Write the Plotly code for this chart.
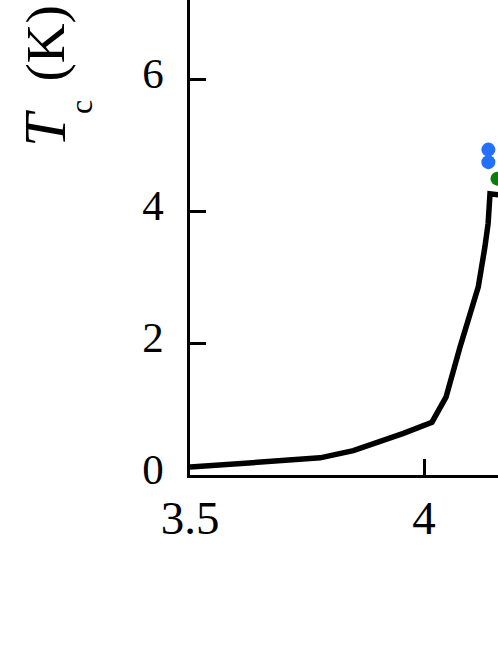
import plotly.graph_objects as go

# Tc curve
curve_x = [3.5, 3.6, 3.692, 3.735, 3.778, 3.849, 3.906, 3.956, 4.017, 4.047, 4.077,
           4.102, 4.116, 4.130, 4.137, 4.141, 4.150, 4.165]
curve_y = [0.12, 0.17, 0.20, 0.22, 0.26, 0.37, 0.50, 0.63, 0.80, 1.18, 1.94,
           2.55, 2.85, 3.45, 3.81, 4.26, 4.25, 4.24]

# blue points
blue_x = [4.1375, 4.1375]
blue_y = [4.93, 4.74]

# green point
green_x = [4.157]
green_y = [4.49]

x_ticks = [3.5, 4]
x_tick_labels = ["3.5", "4"]
y_ticks = [0, 2, 4, 6]
y_tick_labels = ["0", "2", "4", "6"]

FONT = "Liberation Serif"
W, H, L, B = 498, 645, 190, 170
PW, PH = W - L, H - B


def px(xp):
    return (xp - L) / PW


def py(yp):
    return (PH - yp) / PH


fig = go.Figure()
fig.add_trace(go.Scatter(x=curve_x, y=curve_y, mode="lines",
                         line=dict(color="black", width=5.5), showlegend=False))
fig.add_trace(go.Scatter(x=blue_x, y=blue_y, mode="markers", cliponaxis=False,
                         marker=dict(color="#2370ff", size=14), showlegend=False))
fig.add_trace(go.Scatter(x=green_x, y=green_y, mode="markers", cliponaxis=False,
                         marker=dict(color="#0a7d0a", size=14), showlegend=False))

title_common = dict(textangle=-90, showarrow=False, xref="paper", yref="paper",
                    xanchor="center", yanchor="middle")

fig.update_layout(
    width=W, height=H,
    margin=dict(l=L, r=0, t=0, b=B),
    paper_bgcolor="white", plot_bgcolor="white",
    font=dict(family=FONT, color="black"),
    xaxis=dict(range=[3.5, 3.5 + PW / 468], tickvals=x_ticks, ticktext=x_tick_labels,
               ticks="inside", ticklen=16, tickwidth=2.5, tickcolor="black",
               showline=True, linewidth=2.5, linecolor="black", showgrid=False,
               zeroline=False, tickfont=dict(size=47, family=FONT, color="black")),
    yaxis=dict(range=[0, PH / 66], tickvals=y_ticks, ticktext=y_tick_labels,
               ticks="inside", ticklen=16, tickwidth=2.5, tickcolor="black",
               showline=True, linewidth=2.5, linecolor="black", showgrid=False,
               zeroline=False, ticklabelstandoff=15, ticklabelshift=-6,
               tickfont=dict(size=43, family=FONT, color="black")),
    annotations=[
        dict(text="<i>T</i>", x=px(45), y=py(129),
             font=dict(size=60, family=FONT, color="black"), **title_common),
        dict(text="c", x=px(80.5), y=py(107.5),
             font=dict(size=32, family=FONT, color="black"), **title_common),
        dict(text="(K)", x=px(45.5), y=py(44),
             font=dict(size=55, family=FONT, color="black"), **title_common),
    ],
)

fig.write_html("out.html", config=dict(displayModeBar=False),
               post_script="document.body.style.margin='0';document.body.style.overflow='hidden';")
